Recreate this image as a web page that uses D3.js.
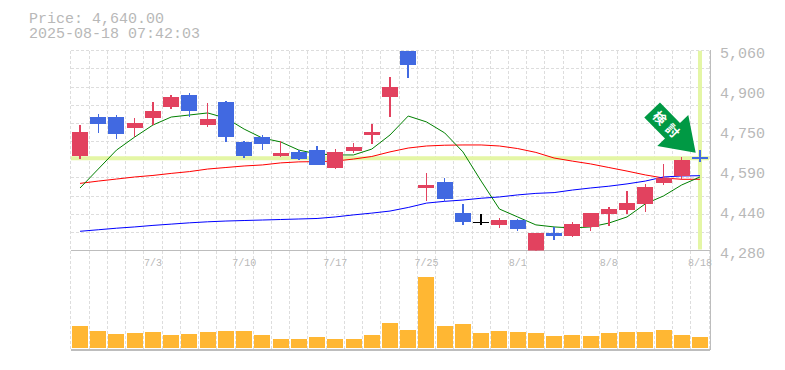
<!DOCTYPE html>
<html>
<head>
<meta charset="utf-8">
<script src="https://cdn.jsdelivr.net/npm/d3@7"></script>
<style>
  html, body { margin: 0; padding: 0; background: #fff; }
  svg { display: block; }
  text { font-family: "Liberation Mono", "DejaVu Sans Mono", monospace; fill: #b8b8b8; }
</style>
</head>
<body>
<div id="chart"></div>
<script>
const dates = ["6/27", "6/30", "7/1", "7/2", "7/3", "7/4", "7/7", "7/8", "7/9", "7/10", "7/11", "7/14", "7/15", "7/16", "7/17", "7/18", "7/22", "7/23", "7/24", "7/25", "7/28", "7/29", "7/30", "7/31", "8/1", "8/4", "8/5", "8/6", "8/7", "8/8", "8/12", "8/13", "8/14", "8/15", "8/18"];
const opens = [4649, 4801, 4801, 4758, 4797, 4840, 4887, 4770, 4860, 4704, 4723, 4649, 4665, 4672, 4602, 4668, 4731, 4879, 5060, 4524, 4547, 4426, 4391, 4380, 4399, 4280, 4348, 4337, 4372, 4423, 4438, 4462, 4544, 4571, 4640];
const highs = [4770, 4813, 4809, 4797, 4860, 4887, 4895, 4856, 4864, 4708, 4731, 4708, 4672, 4688, 4676, 4700, 4774, 4957, 5060, 4583, 4563, 4462, 4423, 4407, 4403, 4348, 4372, 4391, 4426, 4450, 4512, 4540, 4618, 4645, 4672];
const lows = [4637, 4739, 4715, 4723, 4770, 4832, 4801, 4762, 4704, 4641, 4672, 4645, 4633, 4614, 4598, 4661, 4696, 4801, 4953, 4473, 4473, 4380, 4380, 4368, 4356, 4280, 4321, 4333, 4356, 4376, 4423, 4430, 4536, 4555, 4626];
const closes = [4743, 4774, 4735, 4778, 4825, 4879, 4825, 4793, 4723, 4649, 4696, 4661, 4637, 4614, 4665, 4684, 4743, 4918, 5004, 4536, 4481, 4391, 4391, 4399, 4364, 4348, 4337, 4383, 4426, 4442, 4465, 4528, 4563, 4633, 4640];
const volumes = [22, 17, 14, 15, 16, 13, 14, 16, 17, 17, 13, 9, 9, 11, 9, 9, 13, 25, 18, 71, 22, 24, 15, 17, 16, 15, 12, 13, 12, 15, 16, 16, 18, 13, 11];
const maShort = [4524, 4598, 4672, 4723, 4770, 4801, 4809, 4817, 4797, 4754, 4719, 4704, 4672, 4657, 4653, 4653, 4676, 4731, 4805, 4782, 4739, 4665, 4551, 4442, 4411, 4380, 4372, 4368, 4372, 4387, 4411, 4462, 4493, 4536, 4567];
const maMiddle = [4542, 4551, 4559, 4567, 4573, 4581, 4588, 4598, 4604, 4610, 4614, 4622, 4626, 4627, 4629, 4637, 4647, 4665, 4680, 4688, 4691, 4692, 4692, 4688, 4678, 4663, 4641, 4629, 4618, 4604, 4590, 4575, 4563, 4558, 4558];
const maLong = [4355, 4361, 4367, 4372, 4378, 4383, 4388, 4392, 4395, 4397, 4399, 4401, 4403, 4405, 4411, 4419, 4426, 4434, 4448, 4465, 4472, 4477, 4484, 4489, 4497, 4503, 4506, 4516, 4524, 4531, 4540, 4551, 4567, 4571, 4572];
const priceTicks = [5060, 4904, 4748, 4592, 4436, 4280];
const dateTicks = ["7/3", "7/10", "7/17", "7/25", "8/1", "8/8", "8/18"];
const lastPrice = 4640;
const titleLines = ["Price: 4,640.00", "2025-08-18 07:42:03"];

const COLOR_UP = "#E2425F";
const COLOR_DOWN = "#4169E1";
const COLOR_FLAT = "#000000";
const COLOR_GRID = "#dddddd";
const COLOR_FRAME = "#bdbdbd";
const COLOR_MARKER = "#E4F6A5";
const COLOR_VOLUME = "#FFB733";
const COLOR_ARROW = "#009944";

const width = 785;
const height = 370;
const plot = { left: 70.9, right: 709.1, top: 50.7, bottom: 250.5, volumeTop: 277, volumeBottom: 348, frameBottom: 350 };

const svg = d3.select("#chart").append("svg").attr("width", width).attr("height", height);

const x = d3.scaleBand().domain(dates).range([plot.left, plot.right]);
const y = d3.scaleLinear().domain([4280, 5060]).range([plot.bottom, plot.top]);
const yVolume = d3.scaleLinear().domain([0, d3.max(volumes)]).range([plot.volumeBottom, plot.volumeTop]);
const cx = (d) => x(d) + x.bandwidth() / 2;
const bodyWidth = 16;

svg.append("defs").append("clipPath").attr("id", "price-clip").append("rect")
  .attr("x", plot.left).attr("y", plot.top - 0.5)
  .attr("width", plot.right - plot.left).attr("height", plot.bottom - plot.top + 0.5);

// Grid
const grid = svg.append("g")
  .attr("stroke", COLOR_GRID)
  .attr("stroke-dasharray", "3,2")
  .attr("shape-rendering", "crispEdges");

grid.selectAll(".row")
  .data(d3.quantize(d3.interpolate(4280, 5060), 12))
  .enter().append("line")
  .attr("class", "row")
  .attr("x1", plot.left).attr("x2", plot.right)
  .attr("y1", (d) => y(d)).attr("y2", (d) => y(d));

grid.selectAll(".col")
  .data(dates.map((d) => x(d)).concat(plot.right))
  .enter().append("line")
  .attr("class", "col")
  .attr("x1", (d) => d).attr("x2", (d) => d)
  .attr("y1", plot.top).attr("y2", plot.frameBottom);

// Current price and last date markers
svg.append("line")
  .attr("x1", plot.left).attr("x2", plot.right)
  .attr("y1", y(lastPrice)).attr("y2", y(lastPrice))
  .attr("stroke", COLOR_MARKER).attr("stroke-width", 4);
svg.append("line")
  .attr("x1", cx("8/18")).attr("x2", cx("8/18"))
  .attr("y1", plot.top).attr("y2", plot.bottom - 1)
  .attr("stroke", COLOR_MARKER).attr("stroke-width", 4);

// Frame
const frame = svg.append("g").attr("stroke", COLOR_FRAME).attr("shape-rendering", "crispEdges");
frame.append("line").attr("x1", plot.left).attr("x2", plot.right + 1)
  .attr("y1", plot.bottom).attr("y2", plot.bottom).attr("stroke-width", 1);
frame.append("line").attr("x1", plot.left).attr("x2", plot.right + 1)
  .attr("y1", plot.frameBottom).attr("y2", plot.frameBottom).attr("stroke-width", 2);
frame.append("line").attr("x1", plot.right + 1).attr("x2", plot.right + 1)
  .attr("y1", plot.top - 1).attr("y2", plot.frameBottom).attr("stroke-width", 1);

// Moving averages
const line = d3.line().x((d, i) => cx(dates[i])).y((d) => y(d));
const averages = svg.append("g").attr("fill", "none");
averages.append("path").attr("d", line(maMiddle)).attr("stroke", "#ff0000").attr("stroke-width", 1);
averages.append("path").attr("d", line(maLong)).attr("stroke", "#0000ff").attr("stroke-width", 1);
averages.append("path").attr("d", line(maShort)).attr("stroke", "#008000").attr("stroke-width", 1);

// Candles
const lastIndex = dates.length - 1;
const candleColor = (i) =>
  closes[i] > opens[i] ? COLOR_UP : closes[i] < opens[i] ? COLOR_DOWN : i === lastIndex ? COLOR_DOWN : COLOR_FLAT;

const candles = svg.append("g")
  .attr("clip-path", "url(#price-clip)")
  .selectAll("g")
  .data(dates)
  .enter().append("g")
  .attr("shape-rendering", "crispEdges");

candles.append("line")
  .attr("x1", (d) => cx(d)).attr("x2", (d) => cx(d))
  .attr("y1", (d, i) => y(highs[i])).attr("y2", (d, i) => y(lows[i]))
  .attr("stroke", (d, i) => candleColor(i))
  .attr("stroke-width", 1.5);

candles.append("rect")
  .attr("x", (d) => cx(d) - bodyWidth / 2)
  .attr("width", bodyWidth)
  .attr("y", (d, i) => y(Math.max(opens[i], closes[i])) - (i === lastIndex ? 1 : 0))
  .attr("height", (d, i) => Math.max(i === lastIndex ? 2 : 1, Math.abs(y(opens[i]) - y(closes[i]))))
  .attr("fill", (d, i) => candleColor(i));

// Volume
svg.append("g")
  .selectAll("rect")
  .data(volumes)
  .enter().append("rect")
  .attr("x", (d, i) => cx(dates[i]) - bodyWidth / 2)
  .attr("width", bodyWidth)
  .attr("y", (d) => yVolume(d))
  .attr("height", (d) => yVolume(0) - yVolume(d))
  .attr("fill", COLOR_VOLUME)
  .attr("shape-rendering", "crispEdges");

// Axes
const yAxis = d3.axisRight(y)
  .tickValues(priceTicks)
  .tickSize(0)
  .tickPadding(0)
  .tickFormat((d) => d3.format(",")(Math.round(d / 10) * 10));
const yAxisGroup = svg.append("g").attr("transform", "translate(720,0)").call(yAxis);
yAxisGroup.select(".domain").remove();
yAxisGroup.selectAll("text")
  .attr("x", 0).attr("dy", 7)
  .attr("font-size", 15)
  .attr("font-family", null);

const xAxis = d3.axisBottom(x).tickValues(dateTicks).tickSize(0).tickPadding(0);
const xAxisGroup = svg.append("g").attr("transform", "translate(0,257)").call(xAxis);
xAxisGroup.select(".domain").remove();
xAxisGroup.selectAll("text")
  .attr("y", 0).attr("dy", 9)
  .attr("font-size", 10)
  .attr("font-family", null);

// Title
svg.append("g").selectAll("text")
  .data(titleLines)
  .enter().append("text")
  .text((d) => d)
  .attr("x", 29)
  .attr("y", (d, i) => 23 + i * 15)
  .attr("font-size", 15);

// Arrow pointing at the last price, drawn around its tip
const arrowShape = [[0, 0], [-38.4, -6.7], [-30.7, -14.4], [-51.4, -35.4], [-35.7, -50.4], [-15.7, -29.7], [-7.4, -37.7]];
const arrow = svg.append("g")
  .attr("transform", `translate(${cx("8/18") - 4.3},${y(lastPrice) - 5.5})`);
arrow.append("polygon")
  .attr("points", arrowShape.map((p) => p.join(",")).join(" "))
  .attr("fill", COLOR_ARROW);
arrow.append("text")
  .text("検討")
  .attr("transform", "translate(-29,-29) rotate(45)")
  .attr("x", 2.5)
  .attr("text-anchor", "middle")
  .attr("dominant-baseline", "central")
  .attr("font-size", 13)
  .attr("font-weight", 700)
  .attr("letter-spacing", 5)
  .style("font-family", '"Noto Sans CJK JP", sans-serif')
  .style("fill", "#ffffff");
</script>
</body>
</html>
